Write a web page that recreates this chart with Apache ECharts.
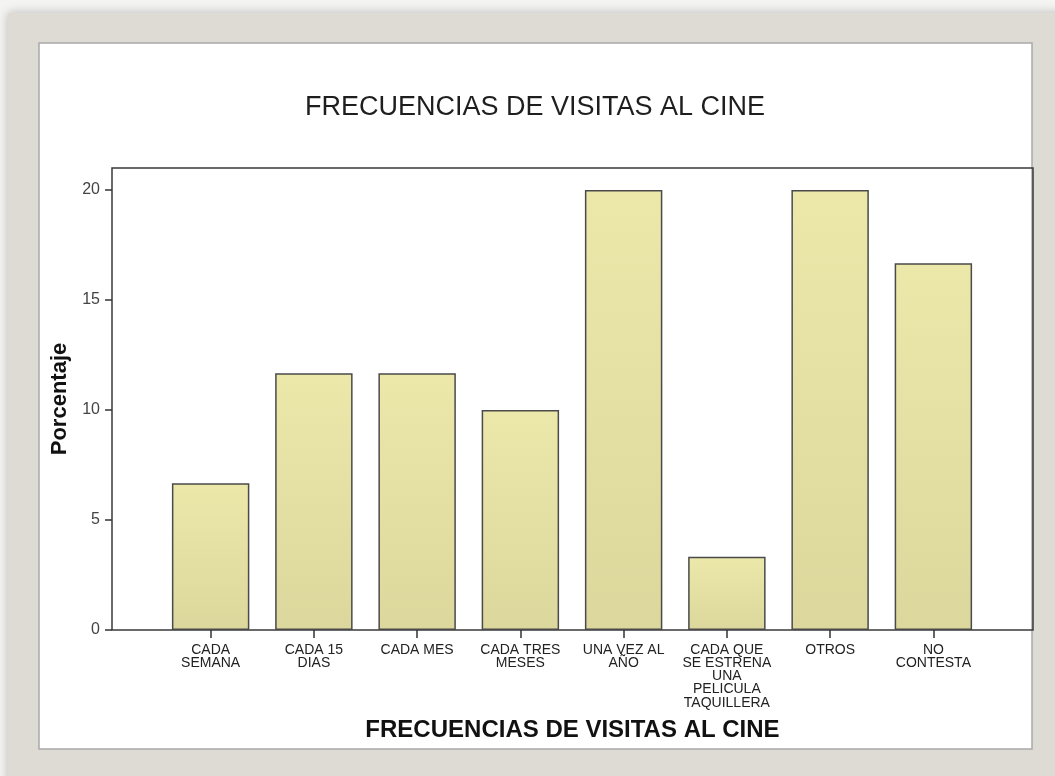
<!DOCTYPE html>
<html>
<head>
<meta charset="utf-8">
<script src="https://cdn.jsdelivr.net/npm/echarts@6/dist/echarts.min.js"></script>
<style>
  html, body { margin: 0; padding: 0; background: #f4f4f2; }
  #chart { width: 1055px; height: 776px; }
</style>
</head>
<body>
<div id="chart"></div>
<script>
// data (percent)
const categories = [
  'CADA\nSEMANA',
  'CADA 15\nDIAS',
  'CADA MES',
  'CADA TRES\nMESES',
  'UNA VEZ AL\nAÑO',
  'CADA QUE\nSE ESTRENA\nUNA\nPELICULA\nTAQUILLERA',
  'OTROS',
  'NO\nCONTESTA'
];
const percentValues = [6.67, 11.67, 11.67, 10.0, 20.0, 3.33, 20.0, 16.67];
const yTicks = [0, 5, 10, 15, 20];

const titleText = 'FRECUENCIAS DE VISITAS AL CINE';
const xName = 'FRECUENCIAS DE VISITAS AL CINE';
const yName = 'Porcentaje';

let chart = echarts.init(document.getElementById('chart'));
const font = '"Liberation Sans", Arial, sans-serif';

const barFill = new echarts.graphic.LinearGradient(0, 0, 0, 1, [
  { offset: 0, color: '#ece8aa' },
  { offset: 1, color: '#dcd79c' }
]);

let option = {
  animation: false,
  backgroundColor: 'transparent',
  graphic: [
    {
      type: 'rect', z: -10,
      shape: { x: 8, y: 13, width: 1060, height: 800 },
      style: { fill: '#dddbd3', shadowBlur: 10, shadowColor: 'rgba(0,0,0,0.25)' }
    },
    {
      type: 'rect', z: -9,
      shape: { x: 39, y: 43, width: 993, height: 706 },
      style: { fill: '#ffffff', stroke: '#a9a9a9', lineWidth: 1.5 }
    },
    {
      type: 'text', z: 10,
      left: 305, top: 94,
      style: { text: titleText, font: '27px ' + font, fill: '#1e1e1e' }
    }
  ],
  grid: [
    // frame grid (axes + border)
    { left: 112, right: 22, top: 168, bottom: 146, show: true,
      borderColor: '#3a3a3a', borderWidth: 1.5, backgroundColor: 'transparent' },
    // bars grid
    { left: 159, right: 70, top: 168, bottom: 146 }
  ],
  xAxis: [
    {
      gridIndex: 0, type: 'value', min: 0, max: 1,
      axisLine: { show: false }, axisTick: { show: false },
      axisLabel: { show: false }, splitLine: { show: false },
      name: xName, nameLocation: 'middle', nameGap: 88,
      nameTextStyle: { fontFamily: font, fontWeight: 'bold', fontSize: 24, color: '#111' }
    },
    {
      gridIndex: 1, type: 'category', data: categories,
      axisLine: { show: false },
      axisTick: { show: true, alignWithLabel: true, length: 8,
        lineStyle: { color: '#333', width: 1.5 } },
      axisLabel: { interval: 0, margin: 13, fontFamily: font, fontSize: 14,
        lineHeight: 13.3, color: '#222' }
    }
  ],
  yAxis: [
    {
      gridIndex: 0, type: 'value', min: 0, max: 21,
      axisLine: { show: false },
      axisTick: { show: true, length: 7, customValues: yTicks,
        lineStyle: { color: '#333', width: 1.5 } },
      axisLabel: { customValues: yTicks, margin: 12, fontFamily: font,
        fontSize: 16, color: '#444' },
      splitLine: { show: false },
      name: yName, nameLocation: 'middle', nameGap: 35,
      nameTextStyle: { fontFamily: font, fontWeight: 'bold', fontSize: 22, color: '#111' }
    },
    {
      gridIndex: 1, type: 'value', min: 0, max: 21,
      axisLine: { show: false }, axisTick: { show: false },
      axisLabel: { show: false }, splitLine: { show: false }
    }
  ],
  series: [
    {
      type: 'bar', xAxisIndex: 1, yAxisIndex: 1,
      data: percentValues,
      barCategoryGap: '25%',
      itemStyle: { color: barFill, borderColor: '#4a4a4a', borderWidth: 1.5 }
    }
  ]
};
chart.setOption(option);
window.addEventListener('resize', () => {
  chart.resize();
});
</script>
</body>
</html>
